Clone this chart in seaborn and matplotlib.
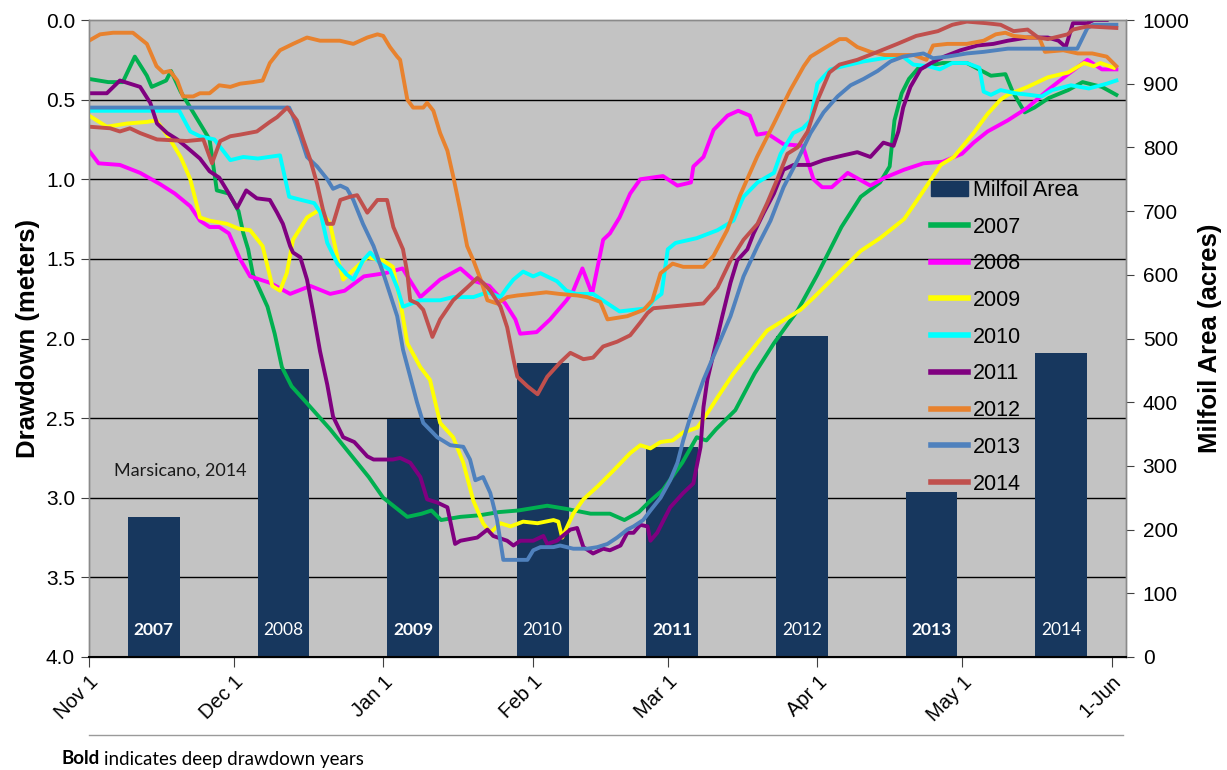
import numpy as np
import pandas as pd
import matplotlib
matplotlib.use("Agg")
import matplotlib.pyplot as plt
from matplotlib.patches import Patch
from matplotlib.lines import Line2D
import seaborn as sns

# ------------------------------------------------------------------ data
month_ticks = [0, 30, 61, 92, 120, 151, 181, 212]          # days after Nov 1
month_labels = ["Nov 1", "Dec 1", "Jan 1", "Feb 1", "Mar 1", "Apr 1", "May 1", "1-Jun"]

bar_years = ["2007", "2008", "2009", "2010", "2011", "2012", "2013", "2014"]
milfoil_area = [220, 452, 374, 461, 330, 504, 259, 477]     # acres
deep_drawdown = [True, False, True, False, True, False, True, False]

days_2007 = [0, 4, 7, 9.5, 12, 13, 16, 17, 19, 23, 25, 26.5, 29, 31, 32, 33, 34, 37, 38.5, 40, 42, 45, 50,
             54, 58, 61, 66, 69, 71, 73, 77, 81, 85, 89, 95, 99, 104, 108, 111, 114, 116, 119, 123, 126,
             128, 130, 134, 138, 142, 147, 151, 156, 160, 164, 166, 167, 168.5, 170, 172, 177, 182, 187,
             190, 191.5, 194, 196, 199, 203, 206, 210, 213]
dd_2007 = [0.37, 0.39, 0.39, 0.23, 0.35, 0.42, 0.38, 0.32, 0.45, 0.65, 0.75, 1.07, 1.09, 1.2, 1.34, 1.44,
           1.6, 1.8, 1.97, 2.18, 2.3, 2.4, 2.57, 2.72, 2.87, 3.0, 3.12, 3.1, 3.08, 3.14, 3.12, 3.11, 3.09,
           3.08, 3.05, 3.07, 3.1, 3.1, 3.14, 3.09, 3.03, 2.95, 2.78, 2.62, 2.64, 2.57, 2.45, 2.22, 2.03,
           1.82, 1.6, 1.3, 1.11, 1.02, 0.92, 0.63, 0.46, 0.37, 0.3, 0.27, 0.27, 0.35, 0.34, 0.45, 0.58,
           0.55, 0.49, 0.44, 0.39, 0.42, 0.47]

days_2008 = [0, 2, 6.4, 10.6, 14.7, 17.8, 21, 23, 25, 27, 29, 31.3, 33.4, 37.5, 41.7, 45.9, 50, 53, 57,
             61.4, 65, 68.7, 72.8, 77, 80, 83, 86.3, 88.4, 89.4, 92.8, 95.6, 99, 100.4, 102.3, 104.3,
             106.6, 108, 110, 112.2, 114.3, 119, 122, 124.8, 125.3, 127.4, 129.5, 132.4, 134.6, 137,
             138.5, 140.5, 144, 148, 150.2, 152, 154, 157.3, 162, 165, 169, 173, 177, 181, 183.4, 186.3,
             190.5, 194.6, 198.8, 203, 207, 210, 213]
dd_2008 = [0.82, 0.9, 0.91, 0.96, 1.03, 1.09, 1.17, 1.26, 1.3, 1.3, 1.34, 1.5, 1.61, 1.65, 1.72, 1.67,
           1.72, 1.7, 1.61, 1.59, 1.56, 1.74, 1.63, 1.56, 1.64, 1.67, 1.78, 1.88, 1.97, 1.96, 1.88, 1.76,
           1.7, 1.56, 1.72, 1.38, 1.34, 1.24, 1.09, 1.0, 0.98, 1.04, 1.02, 0.92, 0.86, 0.69, 0.6, 0.57,
           0.6, 0.72, 0.71, 0.78, 0.79, 1.0, 1.05, 1.05, 0.96, 1.04, 0.99, 0.94, 0.9, 0.89, 0.84, 0.77,
           0.7, 0.63, 0.55, 0.44, 0.34, 0.25, 0.31, 0.31]

days_2009 = [0, 3.7, 7.9, 12, 14, 16.8, 19, 21, 23, 25, 28.6, 31, 33.4, 36, 38, 39.6, 41, 42.3, 45.2,
             47.9, 50, 51.5, 52.7, 54.8, 57.7, 61, 63, 64.5, 66, 68.7, 70.7, 72.8, 75.5, 77.6, 79.7, 81.7,
             83.2, 85.3, 87.4, 90, 93, 96.3, 97.3, 98.1, 100.4, 102.5, 105.4, 108.7, 112.2, 114.3, 116.4,
             118.5, 121, 123.2, 126.1, 128.2, 130.3, 133.6, 140.6, 147.5, 150, 155, 160, 164, 169, 172.4,
             176.6, 179.3, 183.4, 186.3, 189, 190.5, 194.6, 198.8, 203, 206.3, 208.3, 209.7, 212.5]
dd_2009 = [0.6, 0.67, 0.65, 0.64, 0.63, 0.75, 0.86, 1.0, 1.24, 1.26, 1.28, 1.31, 1.32, 1.42, 1.67, 1.7,
           1.59, 1.38, 1.24, 1.19, 1.28, 1.49, 1.63, 1.57, 1.49, 1.51, 1.55, 1.76, 2.03, 2.18, 2.26, 2.53,
           2.62, 2.78, 3.02, 3.16, 3.22, 3.16, 3.18, 3.15, 3.16, 3.14, 3.15, 3.25, 3.1, 3.01, 2.93, 2.83,
           2.72, 2.67, 2.69, 2.65, 2.64, 2.59, 2.56, 2.47, 2.37, 2.22, 1.95, 1.82, 1.75, 1.6, 1.45, 1.37,
           1.25, 1.1, 0.91, 0.86, 0.71, 0.59, 0.5, 0.47, 0.42, 0.36, 0.33, 0.27, 0.29, 0.27, 0.3]

days_2010 = [0, 18.7, 21, 23, 26, 29.3, 32, 35, 39.6, 41.5, 44, 46.7, 48, 49.4, 51.5, 53.5, 54.8, 56.8,
             58.3, 60.4, 62.4, 63.9, 65.1, 68.7, 72.8, 75.5, 79.7, 82.6, 85.3, 86.7, 88, 90, 92.1, 93.6,
             97, 99, 101, 104.5, 107.5, 110, 115.8, 117, 118.7, 120, 121.6, 126, 130.3, 133.6, 135.7,
             138.6, 142, 143.4, 146, 148, 149.6, 151, 153.7, 156.4, 160.6, 164.7, 168.3, 170.9, 174,
             176.4, 179, 182, 184.6, 185.5, 187, 189, 192, 195, 197.5, 199.7, 203.6, 207.3, 211, 213]
dd_2010 = [0.57, 0.57, 0.7, 0.73, 0.75, 0.88, 0.86, 0.87, 0.85, 1.11, 1.13, 1.15, 1.21, 1.4, 1.53, 1.6,
           1.63, 1.51, 1.46, 1.53, 1.57, 1.68, 1.8, 1.76, 1.76, 1.74, 1.74, 1.71, 1.74, 1.68, 1.63, 1.58,
           1.61, 1.59, 1.64, 1.7, 1.72, 1.72, 1.78, 1.83, 1.81, 1.76, 1.72, 1.44, 1.4, 1.37, 1.32, 1.26,
           1.11, 1.02, 0.96, 0.84, 0.71, 0.68, 0.63, 0.4, 0.31, 0.29, 0.26, 0.24, 0.22, 0.28, 0.29, 0.31,
           0.27, 0.27, 0.3, 0.45, 0.47, 0.44, 0.46, 0.47, 0.48, 0.44, 0.41, 0.43, 0.4, 0.38]

days_2011 = [0, 3.7, 6.4, 8.5, 10.6, 12.7, 14.1, 16.2, 18.3, 20.3, 23, 25, 27, 28.6, 30.7, 32.6, 34.8,
             37.5, 39, 40.2, 41.7, 42.3, 43.8, 45.2, 46.5, 47.9, 49.4, 50.6, 52.7, 55, 57.7, 59, 63, 64.5,
             66.6, 68.7, 70.1, 72.2, 74.3, 75.9, 77, 80.5, 82.6, 83.8, 86.7, 88, 89.4, 92.1, 94.2, 95, 97,
             99.8, 101.2, 102.5, 104.5, 106.6, 108, 110.2, 111.6, 112.9, 114.3, 115.8, 116.4, 117.8,
             120.5, 123.2, 125.3, 126.8, 127.4, 128.2, 131.3, 133, 134.4, 136.5, 137.8, 139.9, 142, 144,
             146.1, 149.6, 152.3, 156.4, 159.3, 162, 164.7, 166.8, 167.8, 168.8, 170.3, 172.4, 174.6,
             177.3, 180.7, 184.2, 187.5, 190.5, 194.6, 198.8, 201, 202.5, 204, 207, 208.3, 211]
dd_2011 = [0.46, 0.46, 0.38, 0.4, 0.42, 0.52, 0.65, 0.71, 0.75, 0.8, 0.87, 0.95, 0.99, 1.07, 1.18, 1.07,
           1.12, 1.13, 1.21, 1.28, 1.42, 1.46, 1.49, 1.63, 1.84, 2.08, 2.29, 2.49, 2.62, 2.65, 2.74, 2.76,
           2.76, 2.75, 2.78, 2.87, 3.01, 3.03, 3.06, 3.29, 3.27, 3.25, 3.2, 3.24, 3.27, 3.3, 3.27, 3.27,
           3.24, 3.29, 3.27, 3.2, 3.19, 3.31, 3.35, 3.32, 3.33, 3.3, 3.22, 3.22, 3.17, 3.18, 3.27, 3.22,
           3.06, 2.97, 2.91, 2.68, 2.43, 2.26, 1.86, 1.65, 1.51, 1.44, 1.34, 1.21, 1.09, 0.94, 0.91, 0.91,
           0.88, 0.85, 0.83, 0.86, 0.77, 0.79, 0.7, 0.55, 0.42, 0.31, 0.27, 0.23, 0.19, 0.16, 0.15, 0.13,
           0.11, 0.11, 0.13, 0.17, 0.02, 0.02, 0.0, 0.0]

days_2012 = [0, 2.3, 5, 9.1, 12, 14, 15.4, 16.8, 18.3, 19.5, 21.6, 23, 25, 27, 29.3, 31.3, 34, 36, 37.5,
             39.6, 42.3, 45.2, 47.9, 52, 54.8, 57.7, 59.8, 61, 62.4, 63.9, 64.5, 66, 67.2, 69.3, 70.1, 71.4,
             72.8, 74.3, 75.5, 77, 78.4, 79.7, 81.2, 82.6, 84.6, 86.7, 88.8, 91.9, 94.8, 97.5, 101.3,
             103.3, 106, 107.5, 111.6, 115, 116.8, 118.5, 121, 123.2, 127.4, 129.5, 132.3, 135, 138.5,
             142, 145.4, 148.2, 149.6, 152.3, 155.6, 157, 159.3, 162, 165, 168.3, 171, 173.6, 175, 178,
             182, 185.5, 188, 190, 191.7, 195, 197, 198.2, 202, 205, 208, 211, 213]
dd_2012 = [0.13, 0.09, 0.08, 0.08, 0.15, 0.29, 0.33, 0.32, 0.38, 0.48, 0.48, 0.46, 0.46, 0.41, 0.42, 0.4,
           0.39, 0.38, 0.27, 0.19, 0.15, 0.11, 0.13, 0.13, 0.15, 0.11, 0.09, 0.1, 0.17, 0.23, 0.25, 0.5,
           0.55, 0.55, 0.52, 0.57, 0.71, 0.82, 0.98, 1.2, 1.42, 1.51, 1.63, 1.76, 1.78, 1.74, 1.73, 1.72,
           1.71, 1.72, 1.73, 1.74, 1.77, 1.88, 1.86, 1.82, 1.76, 1.59, 1.53, 1.55, 1.55, 1.48, 1.32, 1.1,
           0.86, 0.65, 0.44, 0.29, 0.23, 0.18, 0.12, 0.12, 0.17, 0.2, 0.22, 0.22, 0.22, 0.25, 0.16, 0.15,
           0.15, 0.13, 0.09, 0.08, 0.1, 0.11, 0.11, 0.2, 0.19, 0.21, 0.21, 0.23, 0.29]

days_2013 = [0, 41.5, 42.1, 43.8, 45.2, 47.3, 49.4, 50.6, 52.1, 53.5, 54.8, 56.8, 59, 61, 62.4, 63.9,
             65.1, 66.6, 68, 69.3, 72.2, 74.9, 77.6, 79, 80.1, 81.7, 83.2, 84.6, 85.9, 88, 90.9, 92.1,
             93.6, 96.3, 97.7, 100.4, 103.3, 105.4, 107.5, 109.5, 111.6, 112.9, 114.9, 116.4, 118.5,
             120.5, 122, 123.2, 124.7, 126.1, 127.4, 133, 135.7, 138.6, 141.3, 144, 146.9, 149.6, 152.3,
             155.2, 157.9, 160.6, 163.5, 166.2, 168.8, 173, 175, 178, 182, 185.5, 190.5, 204.9, 207,
             208.3, 213]
dd_2013 = [0.55, 0.55, 0.59, 0.73, 0.86, 0.92, 1.0, 1.06, 1.04, 1.06, 1.13, 1.28, 1.42, 1.59, 1.72, 1.86,
           2.07, 2.24, 2.4, 2.53, 2.62, 2.67, 2.68, 2.76, 2.89, 2.87, 2.97, 3.14, 3.39, 3.39, 3.39, 3.33,
           3.31, 3.31, 3.3, 3.32, 3.32, 3.31, 3.29, 3.25, 3.2, 3.18, 3.14, 3.08, 3.0, 2.89, 2.78, 2.64,
           2.49, 2.37, 2.26, 1.86, 1.61, 1.42, 1.26, 1.05, 0.88, 0.71, 0.58, 0.48, 0.41, 0.37, 0.32, 0.26,
           0.23, 0.21, 0.24, 0.23, 0.21, 0.2, 0.18, 0.18, 0.05, 0.03, 0.03]

days_2014 = [0, 4.4, 6.4, 8.5, 10.6, 14.1, 20.3, 23.7, 25.5, 27.2, 29.3, 31.3, 34.8, 37.5, 39, 41.1,
             43.1, 44.4, 45.9, 47.3, 48.5, 49.4, 50.6, 52.1, 54.1, 55.6, 57.7, 59.8, 61.8, 63.1, 65.1, 66,
             66.6, 68.1, 69.3, 71.2, 72.8, 75.5, 78.4, 80.5, 81.7, 83.2, 85.3, 86.7, 88, 88.8, 90.9, 93,
             95, 97.7, 99.8, 102.5, 104.5, 106.6, 109.5, 112.2, 114.3, 115.8, 117, 120.5, 127.4, 130.3,
             133, 135.7, 138.6, 140.6, 142.7, 144.8, 146.9, 149, 151.1, 153.5, 155.6, 159.3, 163.5,
             167.6, 171.5, 176, 179, 182, 186, 189, 191.7, 194.6, 196.8, 198.8, 202.9, 204, 207, 213]
dd_2014 = [0.67, 0.68, 0.7, 0.68, 0.71, 0.75, 0.76, 0.75, 0.9, 0.76, 0.73, 0.72, 0.7, 0.64, 0.61, 0.55,
           0.63, 0.75, 0.88, 1.03, 1.19, 1.28, 1.28, 1.13, 1.11, 1.1, 1.21, 1.13, 1.13, 1.3, 1.44, 1.59,
           1.76, 1.78, 1.82, 1.99, 1.88, 1.76, 1.68, 1.62, 1.65, 1.7, 1.8, 1.93, 2.13, 2.24, 2.3, 2.35,
           2.24, 2.15, 2.09, 2.13, 2.12, 2.05, 2.02, 1.98, 1.9, 1.84, 1.81, 1.8, 1.78, 1.68, 1.51, 1.38,
           1.28, 1.15, 1.0, 0.84, 0.8, 0.7, 0.5, 0.33, 0.28, 0.25, 0.2, 0.15, 0.1, 0.07, 0.03, 0.01, 0.02,
           0.03, 0.07, 0.06, 0.11, 0.12, 0.09, 0.06, 0.04, 0.05]

series_days = [days_2007, days_2008, days_2009, days_2010, days_2011, days_2012, days_2013, days_2014]
series_dd = [dd_2007, dd_2008, dd_2009, dd_2010, dd_2011, dd_2012, dd_2013, dd_2014]
series_names = bar_years
line_colors = ["#00B050", "#FF00FF", "#FFFF00", "#00FFFF", "#800080", "#E8822E", "#4F81BD", "#C0504D"]
bar_color = "#17375E"

# ------------------------------------------------------------------ layout
W, H = 1227, 770
plt.rcParams["font.family"] = ["Liberation Sans", "DejaVu Sans"]
fig = plt.figure(figsize=(W / 100, H / 100), dpi=100)
fig.patch.set_facecolor("white")

L, R, B, T = 89, 1126, 657, 20
ax1 = fig.add_axes([L / W, 1 - B / H, (R - L) / W, (B - T) / H])
ax2 = ax1.twinx()
ax2.set_zorder(0)
ax1.set_zorder(1)
ax1.patch.set_visible(False)
ax2.patch.set_visible(True)
ax2.set_facecolor("#C3C3C3")

x_max = 215.0
n_bars = len(bar_years)
slot = x_max / n_bars
bar_x = [slot * (i + 0.5) for i in range(n_bars)]

# bars (right axis)
bar_df = pd.DataFrame({"x": bar_x, "area": milfoil_area})
sns.barplot(data=bar_df, x="x", y="area", native_scale=True, width=0.4, color=bar_color,
            saturation=1, errorbar=None, ax=ax2, zorder=2)

# gridlines behind bars, at each 0.5 m of drawdown
dd_levels = np.arange(0.5, 4.0, 0.5)
ax2.yaxis.set_minor_locator(matplotlib.ticker.FixedLocator(dd_levels / 4.0 * 1000))
ax2.grid(which="minor", axis="y", color="black", lw=1.0)
ax2.grid(which="major", visible=False)
ax2.set_axisbelow(True)
ax2.tick_params(which="minor", length=0)

for xb, yr, deep in zip(bar_x, bar_years, deep_drawdown):
    ax2.text(xb, 42, yr, ha="center", va="center", color="white", fontsize=12.5,
             family="Lato", fontweight="bold" if deep else "normal", zorder=3)

# lines (left axis)
long = pd.concat([pd.DataFrame({"day": d, "dd": v, "year": n})
                  for d, v, n in zip(series_days, series_dd, series_names)], ignore_index=True)
sns.lineplot(data=long, x="day", y="dd", hue="year", palette=dict(zip(series_names, line_colors)),
             estimator=None, sort=False, lw=2.8, legend=False, ax=ax1)
for ln in ax1.get_lines():
    ln.set_solid_joinstyle("round")

ax1.text(5.2, 2.83, "Marsicano, 2014", family="Lato", fontsize=13, va="center", ha="left", color="#1a1a1a")

# axes limits / ticks
ax1.set_xlim(0, x_max)
ax1.set_ylim(4.0, 0.0)
ax2.set_ylim(0, 1000)
ax1.set_yticks(np.arange(0, 4.01, 0.5))
ax1.set_yticklabels([f"{v:.1f}" for v in np.arange(0, 4.01, 0.5)])
ax2.set_yticks(np.arange(0, 1001, 100))
ax1.set_xticks(month_ticks)
ax1.set_xticklabels(month_labels, rotation=45, ha="right", rotation_mode="anchor")
ax1.tick_params(axis="y", labelsize=15, length=6, color="#404040", pad=4)
ax1.tick_params(axis="x", labelsize=14.5, length=7, color="#404040", pad=4)
ax2.tick_params(axis="y", which="major", labelsize=15, length=6, color="#404040", pad=6)
ax1.set_xlabel("")
ax1.set_ylabel("Drawdown (meters)", fontsize=18.5, fontweight="bold", labelpad=4)
ax2.set_ylabel("Milfoil Area (acres)", fontsize=18.5, fontweight="bold", labelpad=6)

for a in (ax1, ax2):
    for s in a.spines.values():
        s.set_color("#8a8a8a")
        s.set_linewidth(1.0)
ax1.spines["bottom"].set_color("black")
ax1.spines["bottom"].set_linewidth(1.5)

# legend
handles = [Patch(facecolor=bar_color, edgecolor=bar_color, label="Milfoil Area")]
for n, c in zip(series_names, line_colors):
    handles.append(Line2D([0], [0], color=c, lw=4, label=n))
leg = ax1.legend(handles=handles, loc="upper left", bbox_to_anchor=(0.812, 0.749), frameon=False,
                 fontsize=15.5, handlelength=1.7, handletextpad=0.25, labelspacing=0.73,
                 borderaxespad=0, borderpad=0)

# footer
fig.add_artist(Line2D([89 / W, 1123 / W], [1 - 735 / H, 1 - 735 / H], color="#9a9a9a", lw=1.0))
t1 = fig.text(62 / W, 1 - 759 / H, "Bold", family="Lato", fontweight="bold", fontsize=13.5,
              va="center", ha="left")
fig.canvas.draw()
bb = t1.get_window_extent(fig.canvas.get_renderer())
fig.text((bb.x1 + 4) / W, 1 - 759 / H, "indicates deep drawdown years", family="Lato",
         fontsize=13.5, va="center", ha="left")

fig.savefig("out.png", dpi=100, facecolor="white")
